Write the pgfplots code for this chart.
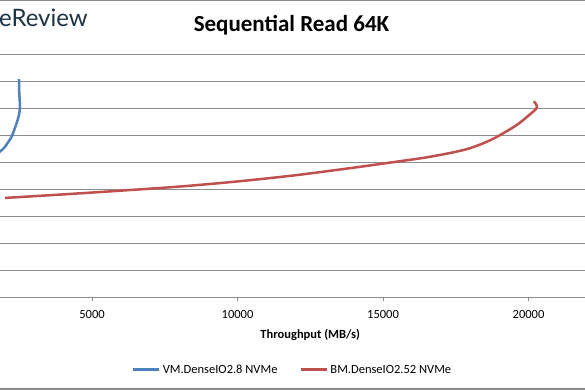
\documentclass[border=0pt]{standalone}
\usepackage{pgfplots}
\pgfplotsset{compat=1.18}
\usepackage{fontspec}
\setmainfont{Carlito}
\newfontfamily\logofont{Lato}
\definecolor{vmblue}{RGB}{79,129,189}
\definecolor{bmred}{RGB}{192,80,77}
\definecolor{gridgray}{RGB}{140,140,140}
\definecolor{logocol}{RGB}{29,52,69}
\begin{document}
\begin{tikzpicture}[x=1pt,y=1pt]
\useasboundingbox (0,0) rectangle (585,390);
\clip (0,0) rectangle (585,390);
\fill[white] (0,0) rectangle (585,390);
\draw[gridgray, line width=1.2pt] (0,389.6) -- (585,389.6);
\draw[gridgray, line width=1.2pt] (0,1) -- (585,1);
\node[anchor=west, text=logocol, font=\logofont\fontsize{24}{26}\selectfont, inner sep=0] at (-1,372) {eReview};
\node[font=\bfseries\fontsize{23}{26}\selectfont, inner sep=0] at (291.5,365) {Sequential Read 64K};
\begin{axis}[
  at={(-53.5pt,92.5pt)}, anchor=south west,
  scale only axis, width=727.5pt, height=243.5pt,
  xmin=0, xmax=25000, ymin=0, ymax=9,
  xtick={5000,10000,15000,20000}, ytick={0,1,...,9}, yticklabels={},
  ymajorgrids, major grid style={gridgray, line width=0.8pt},
  axis line style={gridgray, line width=0.8pt},
  tick align=outside, xtick pos=bottom, ytick style={draw=none},
  xtick style={gridgray, line width=0.8pt}, major tick length=4pt,
  scaled x ticks=false,
  /pgf/number format/.cd, 1000 sep={}, assume math mode=true, /pgfplots/.cd,
  xticklabel style={font=\fontsize{12.5}{14}\selectfont, yshift=-5pt},
  xlabel={\textbf{Throughput (MB/s)}},
  xlabel style={at={(rel axis cs:0.5,0)}, anchor=center, yshift=-37pt, font=\fontsize{12.5}{14}\selectfont},
  legend style={at={(0.4756,-0.2977)}, anchor=center, draw=none, fill=none,
    legend columns=2, font=\fontsize{12.5}{14}\selectfont,
    /tikz/every even column/.append style={column sep=20pt}},
  legend image code/.code={\draw[#1, line width=3pt] (0pt,0pt) -- (26pt,0pt);},
]
\addplot[vmblue, line width=2.5pt, smooth, tension=0.4] coordinates {
 (1150,4.90) (1563,5.16) (1838,5.39) (2010,5.57) (2124,5.75) (2240,5.94) (2319,6.17)
 (2412,6.45) (2491,6.75) (2525,7.05) (2501,7.56) (2491,8.07)
};
\addlegendentry{VM.DenseIO2.8 NVMe}
\addplot[bmred, line width=2.5pt, smooth, tension=0.5] coordinates {
 (2010,3.68) (4000,3.81) (6000,3.95) (8000,4.10) (10000,4.29) (12000,4.52)
 (14000,4.80) (15600,5.04) (16500,5.18) (17300,5.34) (17900,5.49) (18400,5.68)
 (18900,5.93) (19600,6.38) (20150,6.86) (20290,7.02) (20250,7.16) (20180,7.25)
};
\addlegendentry{BM.DenseIO2.52 NVMe}
\end{axis}
\end{tikzpicture}
\end{document}
